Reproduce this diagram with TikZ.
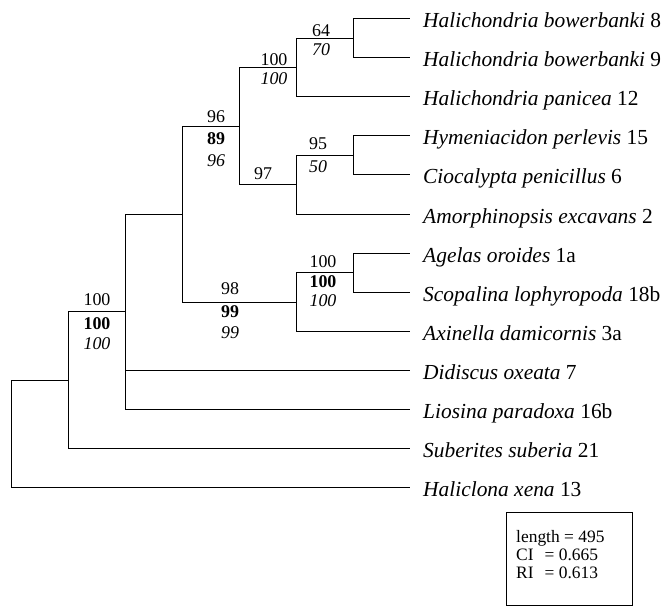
\documentclass[tikz,border=0pt]{standalone}
\usepackage{fontspec}
\setmainfont{Liberation Serif}

\begin{document}
\begin{tikzpicture}[x=1bp,y=-1bp,
    branch/.style={line width=0.9bp},
    taxon/.style={anchor=west,inner xsep=13bp,inner ysep=0pt,text height=18bp,text depth=0pt,
      font=\fontsize{21.5}{24}\selectfont},
    boot/.style={inner sep=0pt,font=\fontsize{18}{20}\selectfont},
    bootb/.style={boot,font=\fontsize{18}{20}\selectfont\bfseries},
    booti/.style={boot,font=\fontsize{18}{20}\selectfont\itshape}]
    \useasboundingbox (0,0) rectangle (661,607);

    % Internal nodes (x of split, y of stem)
    \coordinate (root) at (11,434);
    \coordinate (J) at (68,380);
    \coordinate (I) at (125,311.5);
    \coordinate (H) at (182,214);
    \coordinate (E) at (239,126);
    \coordinate (G) at (296,302);
    \coordinate (B) at (296,67.5);
    \coordinate (D) at (296,184.5);
    \coordinate (A) at (353,38);
    \coordinate (C) at (353,155.5);
    \coordinate (F) at (353,272.5);

    % Taxa
    \node[taxon] (hb8) at (410,18.5) {\textit{Halichondria bowerbanki} 8};
    \node[taxon] (hb9) at (410,57.6) {\textit{Halichondria bowerbanki} 9};
    \node[taxon] (hp12) at (410,96.7) {\textit{Halichondria panicea} 12};
    \node[taxon] (hyp15) at (410,135.8) {\textit{Hymeniacidon perlevis} 15};
    \node[taxon] (cp6) at (410,174.9) {\textit{Ciocalypta penicillus} 6};
    \node[taxon] (ae2) at (410,214) {\textit{Amorphinopsis excavans} 2};
    \node[taxon] (ao1a) at (410,253.1) {\textit{Agelas oroides} 1a};
    \node[taxon] (sl18b) at (410,292.2) {\textit{Scopalina lophyropoda} 18b};
    \node[taxon] (ad3a) at (410,331.3) {\textit{Axinella damicornis} 3a};
    \node[taxon] (do7) at (410,370.4) {\textit{Didiscus oxeata} 7};
    \node[taxon] (lp16b) at (410,409.5) {\textit{Liosina paradoxa} 16b};
    \node[taxon] (ss21) at (410,448.6) {\textit{Suberites suberia} 21};
    \node[taxon] (hx13) at (410,487.7) {\textit{Haliclona xena} 13};

    % Branches
    \draw[branch] (A) |- (hb8.west) (A) |- (hb9.west);
    \draw[branch] (B) |- (A) (B) |- (hp12.west);
    \draw[branch] (C) |- (hyp15.west) (C) |- (cp6.west);
    \draw[branch] (D) |- (C) (D) |- (ae2.west);
    \draw[branch] (E) |- (B) (E) |- (D);
    \draw[branch] (F) |- (ao1a.west) (F) |- (sl18b.west);
    \draw[branch] (G) |- (F) (G) |- (ad3a.west);
    \draw[branch] (H) |- (E) (H) |- (G);
    \draw[branch] (I) |- (H) (I) |- (do7.west) (I) |- (lp16b.west);
    \draw[branch] (J) |- (I) (J) |- (ss21.west);
    \draw[branch] (root) |- (J) (root) |- (hx13.west);

    % Support values
    \node[boot] (sA) at (321,31) {64};
    \node[booti] (sAi) at (321,50) {70};
    \node[boot] (sB) at (274,60) {100};
    \node[booti] (sBi) at (274,79) {100};
    \node[boot] (sC) at (318,144) {95};
    \node[booti] (sCi) at (318,167) {50};
    \node[boot] (sD) at (263,174) {97};
    \node[boot] (sE) at (216,117) {96};
    \node[bootb] (sEb) at (216,139) {89};
    \node[booti] (sEi) at (216,161) {96};
    \node[boot] (sF) at (323,262) {100};
    \node[bootb] (sFb) at (323,282) {100};
    \node[booti] (sFi) at (323,301) {100};
    \node[boot] (sG) at (230,289) {98};
    \node[bootb] (sGb) at (230,312) {99};
    \node[booti] (sGi) at (230,333) {99};
    \node[boot] (sI) at (97,300) {100};
    \node[bootb] (sIb) at (97,324) {100};
    \node[booti] (sIi) at (97,344) {100};

    % Tree statistics
    \node[draw,line width=0.9bp,anchor=north west,inner sep=0pt,minimum width=126bp,minimum height=93bp] (statbox) at (506,512) {};
    \node[anchor=north west,inner sep=0pt,align=left,font=\fontsize{17.5}{18}\selectfont] (stats)
      at ([xshift=10bp,yshift=-18bp]statbox.north west)
      {length = 495\\CI\hspace{11bp}= 0.665\\RI\hspace{11bp}= 0.613};
  \end{tikzpicture}
\end{document}
